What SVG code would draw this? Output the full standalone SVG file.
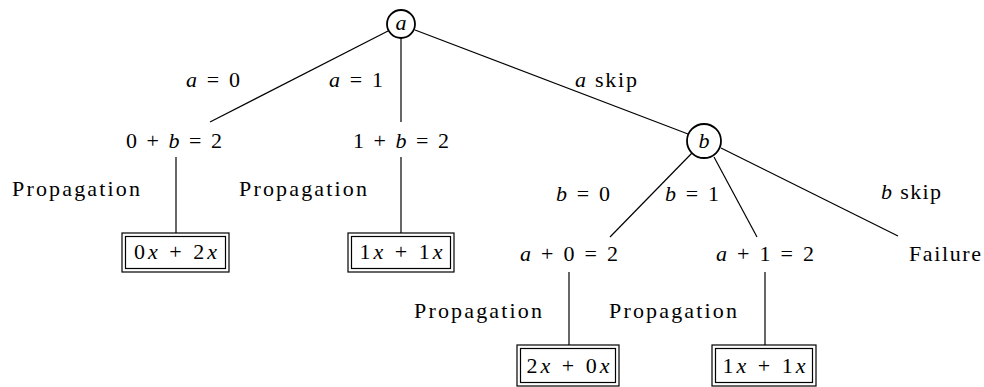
<svg xmlns="http://www.w3.org/2000/svg" width="984" height="387" viewBox="0 0 984 387">
<style>
text{font-family:"Liberation Serif",serif;font-size:22px;fill:#000;text-anchor:middle}
.i{font-style:italic}
.n{fill:#fff;stroke:#000;stroke-width:1.8}
.b{fill:#fff;stroke:#000;stroke-width:1.2}
.e line{stroke:#000;stroke-width:1.2}
</style>
<rect width="984" height="387" fill="#fff"/>
<g class="e" id="connectors">
<line x1="388" y1="31" x2="210" y2="122"/>
<line x1="401" y1="38" x2="401" y2="122"/>
<line x1="415" y1="30" x2="688" y2="134"/>
<line x1="176" y1="157" x2="176" y2="233"/>
<line x1="401" y1="157" x2="401" y2="233"/>
<line x1="692" y1="153" x2="610" y2="237"/>
<line x1="714" y1="157" x2="757" y2="237"/>
<line x1="721" y1="148" x2="898" y2="236"/>
<line x1="569" y1="272" x2="569" y2="345"/>
<line x1="765" y1="272" x2="765" y2="345"/>
</g>
<g id="node-a"><circle class="n" cx="401" cy="24" r="14"/><text class="i" x="401" y="30" font-family="Liberation Serif">a</text></g>
<g id="node-b"><circle class="n" cx="704" cy="141" r="17"/><text class="i" x="704" y="148" font-family="Liberation Serif">b</text></g>
<g id="labels">
<text x="213" y="87" textLength="54" font-family="Liberation Serif"><tspan class="i">a</tspan> = 0</text>
<text x="356" y="87" textLength="54" font-family="Liberation Serif"><tspan class="i">a</tspan> = 1</text>
<text x="606" y="87" textLength="62" font-family="Liberation Serif"><tspan class="i">a</tspan> skip</text>
<text x="583" y="201" textLength="54" font-family="Liberation Serif"><tspan class="i">b</tspan> = 0</text>
<text x="692" y="201" textLength="54" font-family="Liberation Serif"><tspan class="i">b</tspan> = 1</text>
<text x="911" y="199" textLength="60" font-family="Liberation Serif"><tspan class="i">b</tspan> skip</text>
<text x="76" y="196" textLength="128" font-family="Liberation Serif">Propagation</text>
<text x="303" y="196" textLength="128" font-family="Liberation Serif">Propagation</text>
<text x="478" y="318" textLength="128" font-family="Liberation Serif">Propagation</text>
<text x="673" y="318" textLength="128" font-family="Liberation Serif">Propagation</text>
</g>
<g id="node-0b2"><text x="174" y="148" textLength="96" font-family="Liberation Serif">0 + <tspan class="i">b</tspan> = 2</text></g>
<g id="node-1b2"><text x="401" y="148" textLength="96" font-family="Liberation Serif">1 + <tspan class="i">b</tspan> = 2</text></g>
<g id="node-a02"><text x="569" y="261" textLength="98" font-family="Liberation Serif"><tspan class="i">a</tspan> + 0 = 2</text></g>
<g id="node-a12"><text x="765" y="261" textLength="98" font-family="Liberation Serif"><tspan class="i">a</tspan> + 1 = 2</text></g>
<g id="node-failure"><text x="945" y="261" textLength="72" font-family="Liberation Serif">Failure</text></g>
<g id="box-1"><rect class="b" x="122" y="233" width="107" height="39"/><rect class="b" x="125.5" y="236.5" width="100" height="32"/><text x="175.5" y="259" textLength="83" font-family="Liberation Serif">0<tspan class="i">x</tspan> + 2<tspan class="i">x</tspan></text></g>
<g id="box-2"><rect class="b" x="348" y="233" width="106" height="39"/><rect class="b" x="351.5" y="236.5" width="99" height="32"/><text x="401" y="259" textLength="83" font-family="Liberation Serif">1<tspan class="i">x</tspan> + 1<tspan class="i">x</tspan></text></g>
<g id="box-3"><rect class="b" x="517" y="345" width="102" height="41"/><rect class="b" x="520.5" y="348.5" width="95" height="34"/><text x="568" y="373" textLength="83" font-family="Liberation Serif">2<tspan class="i">x</tspan> + 0<tspan class="i">x</tspan></text></g>
<g id="box-4"><rect class="b" x="712" y="345" width="104" height="41"/><rect class="b" x="715.5" y="348.5" width="97" height="34"/><text x="764" y="373" textLength="83" font-family="Liberation Serif">1<tspan class="i">x</tspan> + 1<tspan class="i">x</tspan></text></g>
</svg>
